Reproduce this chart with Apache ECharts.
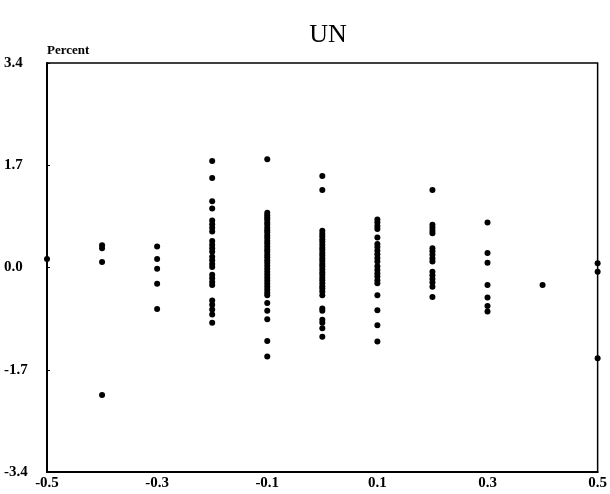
<!DOCTYPE html>
<html>
<head>
<meta charset="UTF-8">
<title>UN</title>
<script src="https://cdn.jsdelivr.net/npm/echarts@6/dist/echarts.min.js"></script>
<style>
  html, body { margin: 0; padding: 0; background: #fff; }
  #main { width: 610px; height: 494px; }
</style>
</head>
<body>
<div id="main"></div>
<script>
// x positions of the columns of points
var xColumns = [-0.5, -0.4, -0.3, -0.2, -0.1, 0.0, 0.1, 0.2, 0.3, 0.4, 0.5];

// percent values read for each column
var colM05 = [0.14];
var colM04 = [0.37, 0.32, 0.09, -2.12];
var colM03 = [0.35, 0.14, -0.02, -0.27, -0.69];
var colM02 = [1.77, 1.49, 1.10, 0.98, 0.78, 0.72, 0.66, 0.60, 0.44, 0.38, 0.32, 0.26,
              0.18, 0.12, 0.06, 0.01, -0.12, -0.18, -0.24, -0.29, -0.55, -0.62, -0.70, -0.78, -0.92];
var colM01 = [1.80, 0.91, 0.87, 0.83, 0.80, 0.75, 0.71, 0.66, 0.62, 0.58, 0.53, 0.49, 0.44,
              0.40, 0.35, 0.30, 0.26, 0.21, 0.17, 0.12, 0.08, 0.03, -0.02, -0.07, -0.12, -0.17,
              -0.22, -0.27, -0.32, -0.37, -0.42, -0.46, -0.59, -0.72, -0.86, -1.22, -1.48];
var col00 = [1.52, 1.29, 0.61, 0.56, 0.52, 0.47, 0.43, 0.38, 0.33, 0.29, 0.24, 0.20, 0.15,
             0.11, 0.06, 0.02, -0.03, -0.08, -0.12, -0.17, -0.21, -0.26, -0.31, -0.35, -0.40,
             -0.46, -0.68, -0.72, -0.87, -0.92, -1.01, -1.15];
var colP01 = [0.80, 0.75, 0.69, 0.64, 0.50, 0.39, 0.34, 0.28, 0.22, 0.16, 0.10, 0.02, -0.04,
              -0.10, -0.15, -0.21, -0.26, -0.46, -0.71, -0.96, -1.23];
var colP02 = [1.29, 0.71, 0.66, 0.61, 0.57, 0.32, 0.27, 0.21, 0.15, 0.10, -0.07, -0.13,
              -0.19, -0.25, -0.32, -0.49];
var colP03 = [0.75, 0.24, 0.08, -0.29, -0.50, -0.64, -0.73];
var colP04 = [-0.29];
var colP05 = [0.07, -0.07, -1.51];

var yTicks = [-3.4, -1.7, 0.0, 1.7, 3.4];
var xLabelsShown = [-0.5, -0.3, -0.1, 0.1, 0.3, 0.5];

var allCols = [colM05, colM04, colM03, colM02, colM01, col00, colP01, colP02, colP03, colP04, colP05];
var points = [];
for (var i = 0; i < xColumns.length; i++) {
  for (var j = 0; j < allCols[i].length; j++) {
    points.push([xColumns[i], allCols[i][j]]);
  }
}

var serif = 'Liberation Serif';
var chart = echarts.init(document.getElementById('main'));
chart.setOption({
  animation: false,
  backgroundColor: '#fff',
  title: {
    text: 'UN',
    left: 323,
    textAlign: 'center',
    top: 17,
    textStyle: { fontFamily: serif, fontSize: 26, fontWeight: 'normal', color: '#000' }
  },
  grid: { left: 47, right: 12, top: 63, bottom: 22, show: true, borderColor: '#000', borderWidth: 1.5 },
  xAxis: {
    type: 'value',
    min: -0.5,
    max: 0.5,
    interval: 0.1,
    splitLine: { show: false },
    axisLine: { onZero: false, lineStyle: { color: '#000', width: 2 } },
    axisTick: { show: false },
    axisLabel: {
      margin: 4,
      fontFamily: serif,
      fontWeight: 'bold',
      fontSize: 15,
      color: '#000',
      showMinLabel: true,
      showMaxLabel: true,
      formatter: function (v) {
        for (var k = 0; k < xLabelsShown.length; k++) {
          if (Math.abs(v - xLabelsShown[k]) < 1e-6) return xLabelsShown[k].toFixed(1);
        }
        return '';
      }
    }
  },
  yAxis: {
    type: 'value',
    min: yTicks[0],
    max: yTicks[yTicks.length - 1],
    interval: 1.7,
    name: 'Percent',
    nameLocation: 'end',
    nameGap: 6,
    nameTextStyle: { align: 'left', fontFamily: serif, fontWeight: 'bold', fontSize: 13, color: '#000' },
    splitLine: { show: false },
    axisLine: { onZero: false, lineStyle: { color: '#000', width: 2 } },
    axisTick: { inside: true, length: 3, lineStyle: { color: '#000' } },
    axisLabel: {
      margin: 43,
      align: 'left',
      fontFamily: serif,
      fontWeight: 'bold',
      fontSize: 15,
      color: '#000',
      formatter: function (v) { return v.toFixed(1); }
    }
  },
  series: [{
    type: 'scatter',
    data: points,
    symbolSize: 6,
    itemStyle: { color: '#000', opacity: 1 },
    clip: false
  }]
});
</script>
</body>
</html>
